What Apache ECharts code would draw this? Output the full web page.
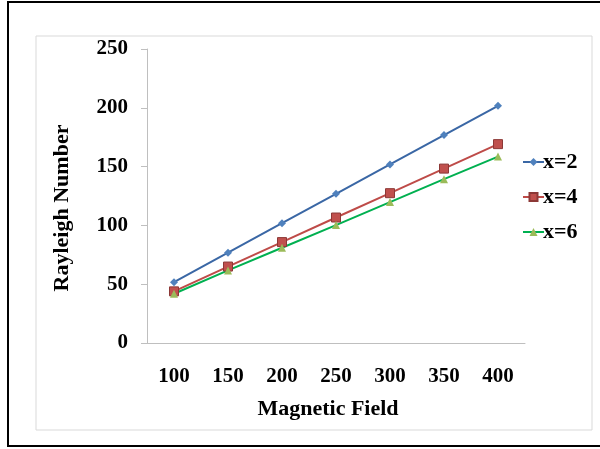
<!DOCTYPE html>
<html>
<head>
<meta charset="utf-8">
<script src="https://cdn.jsdelivr.net/npm/echarts@6/dist/echarts.min.js"></script>
<style>
html, body { margin: 0; padding: 0; background: #fff; }
#chart { width: 600px; height: 449px; }
</style>
</head>
<body>
<div id="chart"></div>
<script>
var categories = ["100", "150", "200", "250", "300", "350", "400"];
var x2 = [51.7, 76.8, 101.9, 126.9, 151.8, 176.8, 201.7];
var x4 = [43.9, 65.0, 85.8, 106.7, 127.4, 148.3, 169.1];
var x6 = [41.9, 61.7, 81.0, 100.3, 119.8, 139.3, 158.5];

var myChart = echarts.init(document.getElementById("chart"));
var font = "'Liberation Serif', 'Times New Roman', serif";

var option = {
	animation: false,
	backgroundColor: "#fff",
	graphic: [
		{
			type: "rect",
			shape: { x: 8, y: 2, width: 620, height: 444 },
			style: { fill: null, stroke: "#000", lineWidth: 2 },
			z: -1
		},
		{
			type: "rect",
			shape: { x: 36, y: 36, width: 556, height: 394 },
			style: { fill: null, stroke: "#d9d9d9", lineWidth: 1 },
			z: -1
		}
	],
	grid: { left: 147, right: 75, top: 49, bottom: 106 },
	legend: {
		orient: "vertical",
		left: 517,
		top: 146,
		itemGap: 13,
		itemWidth: 21,
		itemHeight: 10,
		textStyle: { fontFamily: font, fontWeight: "bold", fontSize: 22, color: "#000", padding: [0, 0, 0, -6] },
		data: ["x=2", "x=4", "x=6"]
	},
	xAxis: {
		type: "category",
		data: categories,
		boundaryGap: true,
		name: "Magnetic Field",
		nameLocation: "middle",
		nameGap: 55,
		nameTextStyle: { fontFamily: font, fontWeight: "bold", fontSize: 22, color: "#000", padding: [0, 16, 0, 0] },
		axisLine: { lineStyle: { color: "#bfbfbf" } },
		axisTick: { length: 6, lineStyle: { color: "#bfbfbf" } },
		axisLabel: { fontFamily: font, fontWeight: "bold", fontSize: 21, color: "#000", margin: 23 }
	},
	yAxis: {
		type: "value",
		min: 0,
		max: 250,
		interval: 50,
		name: "Rayleigh Number",
		nameLocation: "middle",
		nameGap: 74,
		nameRotate: 90,
		nameTextStyle: { fontFamily: font, fontWeight: "bold", fontSize: 22, color: "#000", padding: [0, 24, 0, 0] },
		splitLine: { show: false },
		axisLine: { show: true, lineStyle: { color: "#bfbfbf" } },
		axisTick: { show: true, length: 6, lineStyle: { color: "#bfbfbf" } },
		axisLabel: { fontFamily: font, fontWeight: "bold", fontSize: 21, color: "#000", margin: 19 }
	},
	series: [
		{
			name: "x=2",
			type: "line",
			data: x2,
			symbol: "diamond",
			symbolSize: 8,
			lineStyle: { color: "#3a67a5", width: 2 },
			itemStyle: { color: "#4f81bd" }
		},
		{
			name: "x=4",
			type: "line",
			data: x4,
			symbol: "rect",
			symbolSize: 9,
			lineStyle: { color: "#be4b48", width: 2 },
			itemStyle: { color: "#c0504d", borderColor: "#8c3836", borderWidth: 1 }
		},
		{
			name: "x=6",
			type: "line",
			data: x6,
			symbol: "triangle",
			symbolSize: 8,
			lineStyle: { color: "#00b050", width: 2 },
			itemStyle: { color: "#9bbb59" }
		}
	]
};

myChart.setOption(option);
</script>
</body>
</html>
